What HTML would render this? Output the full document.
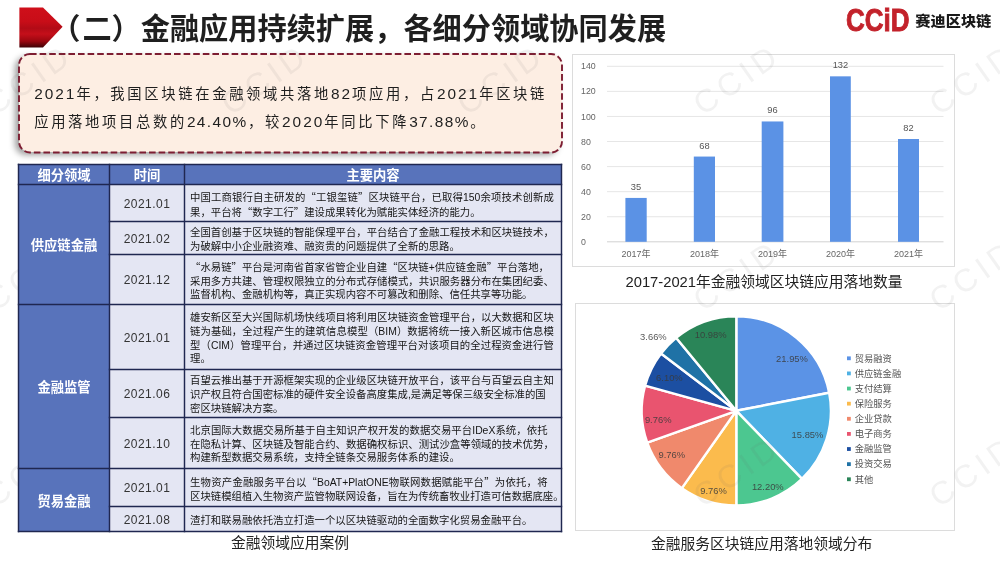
<!DOCTYPE html>
<html lang="zh-CN">
<head>
<meta charset="utf-8">
<title>金融应用持续扩展，各细分领域协同发展</title>
<style>
html,body{margin:0;padding:0;}
body{width:1000px;height:563px;overflow:hidden;background:#fff;position:relative;font-family:"Liberation Sans","Noto Sans CJK SC",sans-serif;color:#222;}
.abs{position:absolute;}
.cjk{font-family:"Noto Sans CJK SC",sans-serif;}
#title{left:53.2px;top:9.5px;font-size:29.2px;font-weight:bold;line-height:38px;white-space:nowrap;color:#1f1f1f;letter-spacing:0;}
#arrow{left:19px;top:7px;}
#logo{left:845px;top:5px;width:150px;height:32px;}
#note{left:18.6px;top:53.5px;width:543px;height:98.5px;border-radius:11px;background:#fdeee3;box-shadow:-4px 3px 6px rgba(0,0,0,.38);}
#note svg{position:absolute;left:-2px;top:-2px;}
#note p{margin:0;position:absolute;left:15.6px;white-space:nowrap;font-size:14.3px;letter-spacing:2.67px;line-height:20px;color:#1e1e1e;}
#note p b.n2{letter-spacing:1.4px;margin-right:.6px}
#note p b{font-weight:normal;font-size:15.4px;letter-spacing:2.0px;}
.wm{position:absolute;width:120px;height:48px;line-height:48px;text-align:center;font-size:32px;color:rgba(110,110,110,.085);transform:rotate(-35deg);font-family:"Liberation Sans",sans-serif;letter-spacing:5px;white-space:nowrap;pointer-events:none;}
/* table */
.cell{position:absolute;box-sizing:border-box;border:1px solid #262e58;}
.hd{background:#5873bb;color:#fff;font-weight:bold;font-size:13.3px;display:flex;align-items:center;justify-content:center;}
.cat{background:#5873bb;color:#fff;font-weight:bold;font-size:13.3px;display:flex;align-items:center;justify-content:center;}
.tm{background:#e4e6f3;font-size:12px;color:#333;padding-top:1px;display:flex;align-items:center;justify-content:center;letter-spacing:.45px;}
.tx{background:#e4e6f3;font-size:10.38px;line-height:13.75px;color:#151515;white-space:nowrap;display:flex;align-items:center;padding-left:5px;padding-top:3px;}
.ls{width:363.8px;}
.fl{text-align:justify;text-align-last:justify;}
.ll{text-align:left;}
.q{font-family:"Noto Sans CJK SC",sans-serif;}
.cap{position:absolute;font-size:14.75px;color:#222;white-space:nowrap;text-align:center;line-height:20px;}
.box{position:absolute;border:1px solid #dcdcdc;background:#fff;box-sizing:border-box;}
svg text{font-family:"Liberation Sans","Noto Sans CJK SC",sans-serif;}
</style>
</head>
<body>
<!-- header -->
<svg id="arrow" class="abs" width="46" height="42" viewBox="0 0 46 42">
  <defs>
    <linearGradient id="ag" x1="0" y1="0" x2="0" y2="1">
      <stop offset="0" stop-color="#cf0f1a"/><stop offset=".35" stop-color="#c80d18"/><stop offset=".52" stop-color="#b20b16"/><stop offset=".66" stop-color="#c50f1a"/><stop offset=".84" stop-color="#9a0710"/><stop offset="1" stop-color="#3c0205"/>
    </linearGradient>
  </defs>
  <path d="M0.4 0.5 H24 L43.6 19.8 L24 40.6 H0.4 Z" fill="url(#ag)"/>
</svg>
<div id="title" class="abs"><span style="margin-left:-2px;margin-right:2px">（</span>二）金融应用持续扩展，各细分领域协同发展</div>
<svg id="logo" class="abs" viewBox="0 0 150 32">
  <text x="1" y="26" font-size="30.5" font-weight="bold" fill="#c3222b" stroke="#c3222b" stroke-width=".9" textLength="63.5" lengthAdjust="spacingAndGlyphs" style="font-family:'Liberation Sans',sans-serif">CCiD</text>
  <text x="70.3" y="20.8" font-size="14.2" font-weight="900" fill="#1a1a1a" textLength="76" lengthAdjust="spacingAndGlyphs" style="font-family:'Noto Sans CJK SC',sans-serif">赛迪区块链</text>
</svg>

<!-- note -->
<div id="note" class="abs">
  <svg width="547" height="102.5" viewBox="-2 -2 547 102.5"><rect x="0" y="0" width="543" height="98.5" rx="11" ry="11" fill="none" stroke="#7d1d32" stroke-width="1.9" stroke-dasharray="6.6 3"/></svg>
  <p style="top:30.8px"><b>2021</b>年，我国区块链在金融领域共落地<b>82</b>项应用，占<b>2021</b>年区块链</p>
  <p style="top:58.1px">应用落地项目总数的<b class="n2">24.40%</b>，较<b>2020</b>年同比下降<b class="n2">37.88%</b>。</p>
</div>

<!-- table placeholder -->
<div class="box" id="barbox" style="left:572px;top:54px;width:383px;height:213px;"></div>
<div class="box" id="piebox" style="left:575px;top:303px;width:380px;height:228px;"></div>
<svg class="abs" style="left:0;top:0" width="1000" height="563" viewBox="0 0 1000 563">
<rect x="607" y="241.30" width="336.5" height="1" fill="#d2d2d2"/>
<text x="581" y="244.90" font-size="8.8" fill="#666">0</text>
<rect x="607" y="216.23" width="336.5" height="1" fill="#e6e6e6"/>
<text x="581" y="219.83" font-size="8.8" fill="#666">20</text>
<rect x="607" y="191.16" width="336.5" height="1" fill="#e6e6e6"/>
<text x="581" y="194.76" font-size="8.8" fill="#666">40</text>
<rect x="607" y="166.09" width="336.5" height="1" fill="#e6e6e6"/>
<text x="581" y="169.69" font-size="8.8" fill="#666">60</text>
<rect x="607" y="141.02" width="336.5" height="1" fill="#e6e6e6"/>
<text x="581" y="144.62" font-size="8.8" fill="#666">80</text>
<rect x="607" y="115.95" width="336.5" height="1" fill="#e6e6e6"/>
<text x="581" y="119.55" font-size="8.8" fill="#666">100</text>
<rect x="607" y="90.88" width="336.5" height="1" fill="#e6e6e6"/>
<text x="581" y="94.48" font-size="8.8" fill="#666">120</text>
<rect x="607" y="65.81" width="336.5" height="1" fill="#e6e6e6"/>
<text x="581" y="69.41" font-size="8.8" fill="#666">140</text>
<rect x="625.4" y="197.93" width="21.3" height="43.87" fill="#5b92e5"/>
<text x="636.0" y="189.93" font-size="9.3" fill="#555" text-anchor="middle">35</text>
<text x="636.0" y="257.00" font-size="9" fill="#666" text-anchor="middle">2017年</text>
<rect x="693.8" y="156.56" width="21.2" height="85.24" fill="#5b92e5"/>
<text x="704.4" y="148.56" font-size="9.3" fill="#555" text-anchor="middle">68</text>
<text x="704.4" y="257.00" font-size="9" fill="#666" text-anchor="middle">2018年</text>
<rect x="761.7" y="121.46" width="21.7" height="120.34" fill="#5b92e5"/>
<text x="772.5" y="113.46" font-size="9.3" fill="#555" text-anchor="middle">96</text>
<text x="772.5" y="257.00" font-size="9" fill="#666" text-anchor="middle">2019年</text>
<rect x="830.0" y="76.34" width="20.8" height="165.46" fill="#5b92e5"/>
<text x="840.4" y="68.34" font-size="9.3" fill="#555" text-anchor="middle">132</text>
<text x="840.4" y="257.00" font-size="9" fill="#666" text-anchor="middle">2020年</text>
<rect x="898.0" y="139.01" width="21.0" height="102.79" fill="#5b92e5"/>
<text x="908.5" y="131.01" font-size="9.3" fill="#555" text-anchor="middle">82</text>
<text x="908.5" y="257.00" font-size="9" fill="#666" text-anchor="middle">2021年</text>
<path d="M736.3 410.8 L736.30 316.20 A94.6 94.6 0 0 1 829.17 392.78 Z" fill="#5b93e6" stroke="#fff" stroke-width="2.4" stroke-linejoin="round"/>
<path d="M736.3 410.8 L829.17 392.78 A94.6 94.6 0 0 1 801.92 478.94 Z" fill="#4fb1e4" stroke="#fff" stroke-width="2.4" stroke-linejoin="round"/>
<path d="M736.3 410.8 L801.92 478.94 A94.6 94.6 0 0 1 736.30 505.40 Z" fill="#4cc790" stroke="#fff" stroke-width="2.4" stroke-linejoin="round"/>
<path d="M736.3 410.8 L736.30 505.40 A94.6 94.6 0 0 1 681.86 488.16 Z" fill="#fbbb4d" stroke="#fff" stroke-width="2.4" stroke-linejoin="round"/>
<path d="M736.3 410.8 L681.86 488.16 A94.6 94.6 0 0 1 647.25 442.73 Z" fill="#f0896c" stroke="#fff" stroke-width="2.4" stroke-linejoin="round"/>
<path d="M736.3 410.8 L647.25 442.73 A94.6 94.6 0 0 1 645.10 385.67 Z" fill="#e9546f" stroke="#fff" stroke-width="2.4" stroke-linejoin="round"/>
<path d="M736.3 410.8 L645.10 385.67 A94.6 94.6 0 0 1 661.04 353.48 Z" fill="#1c4fa2" stroke="#fff" stroke-width="2.4" stroke-linejoin="round"/>
<path d="M736.3 410.8 L661.04 353.48 A94.6 94.6 0 0 1 676.09 337.83 Z" fill="#1f72a6" stroke="#fff" stroke-width="2.4" stroke-linejoin="round"/>
<path d="M736.3 410.8 L676.09 337.83 A94.6 94.6 0 0 1 736.30 316.20 Z" fill="#2a8558" stroke="#fff" stroke-width="2.4" stroke-linejoin="round"/>
<text x="792" y="361.5" font-size="9.4" fill="#3a3a3a" text-anchor="middle" opacity=".85">21.95%</text>
<text x="807.5" y="437.6" font-size="9.4" fill="#3a3a3a" text-anchor="middle" opacity=".85">15.85%</text>
<text x="767.8" y="490.0" font-size="9.4" fill="#3a3a3a" text-anchor="middle" opacity=".85">12.20%</text>
<text x="713.5" y="493.9" font-size="9.4" fill="#3a3a3a" text-anchor="middle" opacity=".85">9.76%</text>
<text x="671.8" y="458.0" font-size="9.4" fill="#3a3a3a" text-anchor="middle" opacity=".85">9.76%</text>
<text x="658.2" y="423.2" font-size="9.4" fill="#3a3a3a" text-anchor="middle" opacity=".85">9.76%</text>
<text x="669.4" y="381.2" font-size="9.4" fill="#3a3a3a" text-anchor="middle" opacity=".85">6.10%</text>
<text x="653.4" y="340.2" font-size="9.4" fill="#3a3a3a" text-anchor="middle" opacity=".85">3.66%</text>
<text x="710.6" y="337.8" font-size="9.4" fill="#3a3a3a" text-anchor="middle" opacity=".85">10.98%</text>
<rect x="847" y="356.40" width="3.8" height="3.8" fill="#5b93e6"/>
<text x="854.7" y="361.60" font-size="9.3" fill="#555">贸易融资</text>
<rect x="847" y="371.52" width="3.8" height="3.8" fill="#4fb1e4"/>
<text x="854.7" y="376.72" font-size="9.3" fill="#555">供应链金融</text>
<rect x="847" y="386.64" width="3.8" height="3.8" fill="#4cc790"/>
<text x="854.7" y="391.84" font-size="9.3" fill="#555">支付结算</text>
<rect x="847" y="401.76" width="3.8" height="3.8" fill="#fbbb4d"/>
<text x="854.7" y="406.96" font-size="9.3" fill="#555">保险服务</text>
<rect x="847" y="416.88" width="3.8" height="3.8" fill="#f0896c"/>
<text x="854.7" y="422.08" font-size="9.3" fill="#555">企业贷款</text>
<rect x="847" y="432.00" width="3.8" height="3.8" fill="#e9546f"/>
<text x="854.7" y="437.20" font-size="9.3" fill="#555">电子商务</text>
<rect x="847" y="447.12" width="3.8" height="3.8" fill="#1c4fa2"/>
<text x="854.7" y="452.32" font-size="9.3" fill="#555">金融监管</text>
<rect x="847" y="462.24" width="3.8" height="3.8" fill="#1f72a6"/>
<text x="854.7" y="467.44" font-size="9.3" fill="#555">投资交易</text>
<rect x="847" y="477.36" width="3.8" height="3.8" fill="#2a8558"/>
<text x="854.7" y="482.56" font-size="9.3" fill="#555">其他</text>
</svg>

<div class="wm" style="left:-31px;top:55px;">CCID</div>
<div class="wm" style="left:205px;top:55px;">CCID</div>
<div class="wm" style="left:441px;top:55px;">CCID</div>
<div class="wm" style="left:677px;top:55px;">CCID</div>
<div class="wm" style="left:913px;top:55px;">CCID</div>
<div class="wm" style="left:-31px;top:251px;">CCID</div>
<div class="wm" style="left:205px;top:251px;">CCID</div>
<div class="wm" style="left:441px;top:251px;">CCID</div>
<div class="wm" style="left:677px;top:251px;">CCID</div>
<div class="wm" style="left:913px;top:251px;">CCID</div>
<div class="wm" style="left:-31px;top:447px;">CCID</div>
<div class="wm" style="left:205px;top:447px;">CCID</div>
<div class="wm" style="left:441px;top:447px;">CCID</div>
<div class="wm" style="left:677px;top:447px;">CCID</div>
<div class="wm" style="left:913px;top:447px;">CCID</div>
<div class="cell hd" style="left:18px;top:164px;width:92px;height:21px;">细分领域</div>
<div class="cell hd" style="left:109px;top:164px;width:76px;height:21px;">时间</div>
<div class="cell hd" style="left:184px;top:164px;width:378px;height:21px;">主要内容</div>
<div class="cell cat" style="left:18px;top:184px;width:92px;height:121px;"><span>供应链金融</span></div>
<div class="cell cat" style="left:18px;top:304px;width:92px;height:165px;"><span>金融监管</span></div>
<div class="cell cat" style="left:18px;top:468px;width:92px;height:64px;"><span>贸易金融</span></div>
<div class="cell tm" style="left:109px;top:184px;width:76px;height:38px;">2021.01</div>
<div class="cell tx" style="left:184px;top:184px;width:378px;height:38px;"><div class="ls"><div class="fl">中国工商银行自主研发的<span class="q">“</span>工银玺链<span class="q">”</span>区块链平台，已取得150余项技术创新成</div><div class="ll">果，平台将<span class="q">“</span>数字工行<span class="q">”</span>建设成果转化为赋能实体经济的能力。</div></div></div>
<div class="cell tm" style="left:109px;top:221px;width:76px;height:34px;">2021.02</div>
<div class="cell tx" style="left:184px;top:221px;width:378px;height:34px;"><div class="ls"><div class="fl">全国首创基于区块链的智能保理平台，平台结合了金融工程技术和区块链技术，</div><div class="ll">为破解中小企业融资难、融资贵的问题提供了全新的思路。</div></div></div>
<div class="cell tm" style="left:109px;top:254px;width:76px;height:51px;">2021.12</div>
<div class="cell tx" style="left:184px;top:254px;width:378px;height:51px;"><div class="ls"><div class="ll"><span class="q">“</span>水易链<span class="q">”</span>平台是河南省首家省管企业自建<span class="q">“</span>区块链+供应链金融<span class="q">”</span>平台落地，</div><div class="fl">采用多方共建、管理权限独立的分布式存储模式，共识服务器分布在集团纪委、</div><div class="ll">监督机构、金融机构等，真正实现内容不可篡改和删除、信任共享等功能。</div></div></div>
<div class="cell tm" style="left:109px;top:304px;width:76px;height:66px;">2021.01</div>
<div class="cell tx" style="left:184px;top:304px;width:378px;height:66px;"><div class="ls"><div class="fl">雄安新区至大兴国际机场快线项目将利用区块链资金管理平台，以大数据和区块</div><div class="fl">链为基础，全过程产生的建筑信息模型（BIM）数据将统一接入新区城市信息模</div><div class="fl">型（CIM）管理平台，并通过区块链资金管理平台对该项目的全过程资金进行管</div><div class="ll">理。</div></div></div>
<div class="cell tm" style="left:109px;top:369px;width:76px;height:49px;">2021.06</div>
<div class="cell tx" style="left:184px;top:369px;width:378px;height:49px;"><div class="ls"><div class="fl">百望云推出基于开源框架实现的企业级区块链开放平台，该平台与百望云自主知</div><div class="ll">识产权且符合国密标准的硬件安全设备高度集成,是满足等保三级安全标准的国</div><div class="ll">密区块链解决方案。</div></div></div>
<div class="cell tm" style="left:109px;top:417px;width:76px;height:52px;">2021.10</div>
<div class="cell tx" style="left:184px;top:417px;width:378px;height:52px;"><div class="ls"><div class="fl" style="width:357.6px">北京国际大数据交易所基于自主知识产权开发的数据交易平台IDeX系统，依托</div><div class="fl">在隐私计算、区块链及智能合约、数据确权标识、测试沙盒等领域的技术优势，</div><div class="ll">构建新型数据交易系统，支持全链条交易服务体系的建设。</div></div></div>
<div class="cell tm" style="left:109px;top:468px;width:76px;height:39px;">2021.01</div>
<div class="cell tx" style="left:184px;top:468px;width:378px;height:39px;"><div class="ls"><div class="fl" style="width:357.6px">生物资产金融服务平台以<span class="q">“</span>BoAT+PlatONE物联网数据赋能平台<span class="q">”</span>为依托，将</div><div class="ll">区块链模组植入生物资产监管物联网设备，旨在为传统畜牧业打造可信数据底座。</div></div></div>
<div class="cell tm" style="left:109px;top:506px;width:76px;height:26px;">2021.08</div>
<div class="cell tx" style="left:184px;top:506px;width:378px;height:26px;"><div class="ls"><div class="ll">渣打和联易融依托浩立打造一个以区块链驱动的全面数字化贸易金融平台。</div></div></div>
<svg class="abs" style="left:0;top:0" width="1000" height="563" viewBox="0 0 1000 563" fill="none" stroke="#1f2750" stroke-width="1.45">
<path d="M17.8 164.5 L562.2 164.5"/>
<path d="M17.8 184.5 L562.2 184.5"/>
<path d="M108.8 221.5 L562.2 221.5"/>
<path d="M108.8 254.5 L562.2 254.5"/>
<path d="M17.8 304.5 L562.2 304.5"/>
<path d="M108.8 369.5 L562.2 369.5"/>
<path d="M108.8 417.5 L562.2 417.5"/>
<path d="M17.8 468.5 L562.2 468.5"/>
<path d="M108.8 506.5 L562.2 506.5"/>
<path d="M17.8 531.5 L562.2 531.5"/>
<path d="M18.5 163.8 L18.5 532.2"/>
<path d="M109.5 163.8 L109.5 532.2"/>
<path d="M184.5 163.8 L184.5 532.2"/>
<path d="M561.5 163.8 L561.5 532.2"/>
</svg>


<div class="cap" style="left:190px;top:533.4px;width:200px;">金融领域应用案例</div>
<div class="cap" style="left:614px;top:272px;width:300px;">2017-2021年金融领域区块链应用落地数量</div>
<div class="cap" style="left:611.5px;top:534.3px;width:300px;">金融服务区块链应用落地领域分布</div>



</body>
</html>
